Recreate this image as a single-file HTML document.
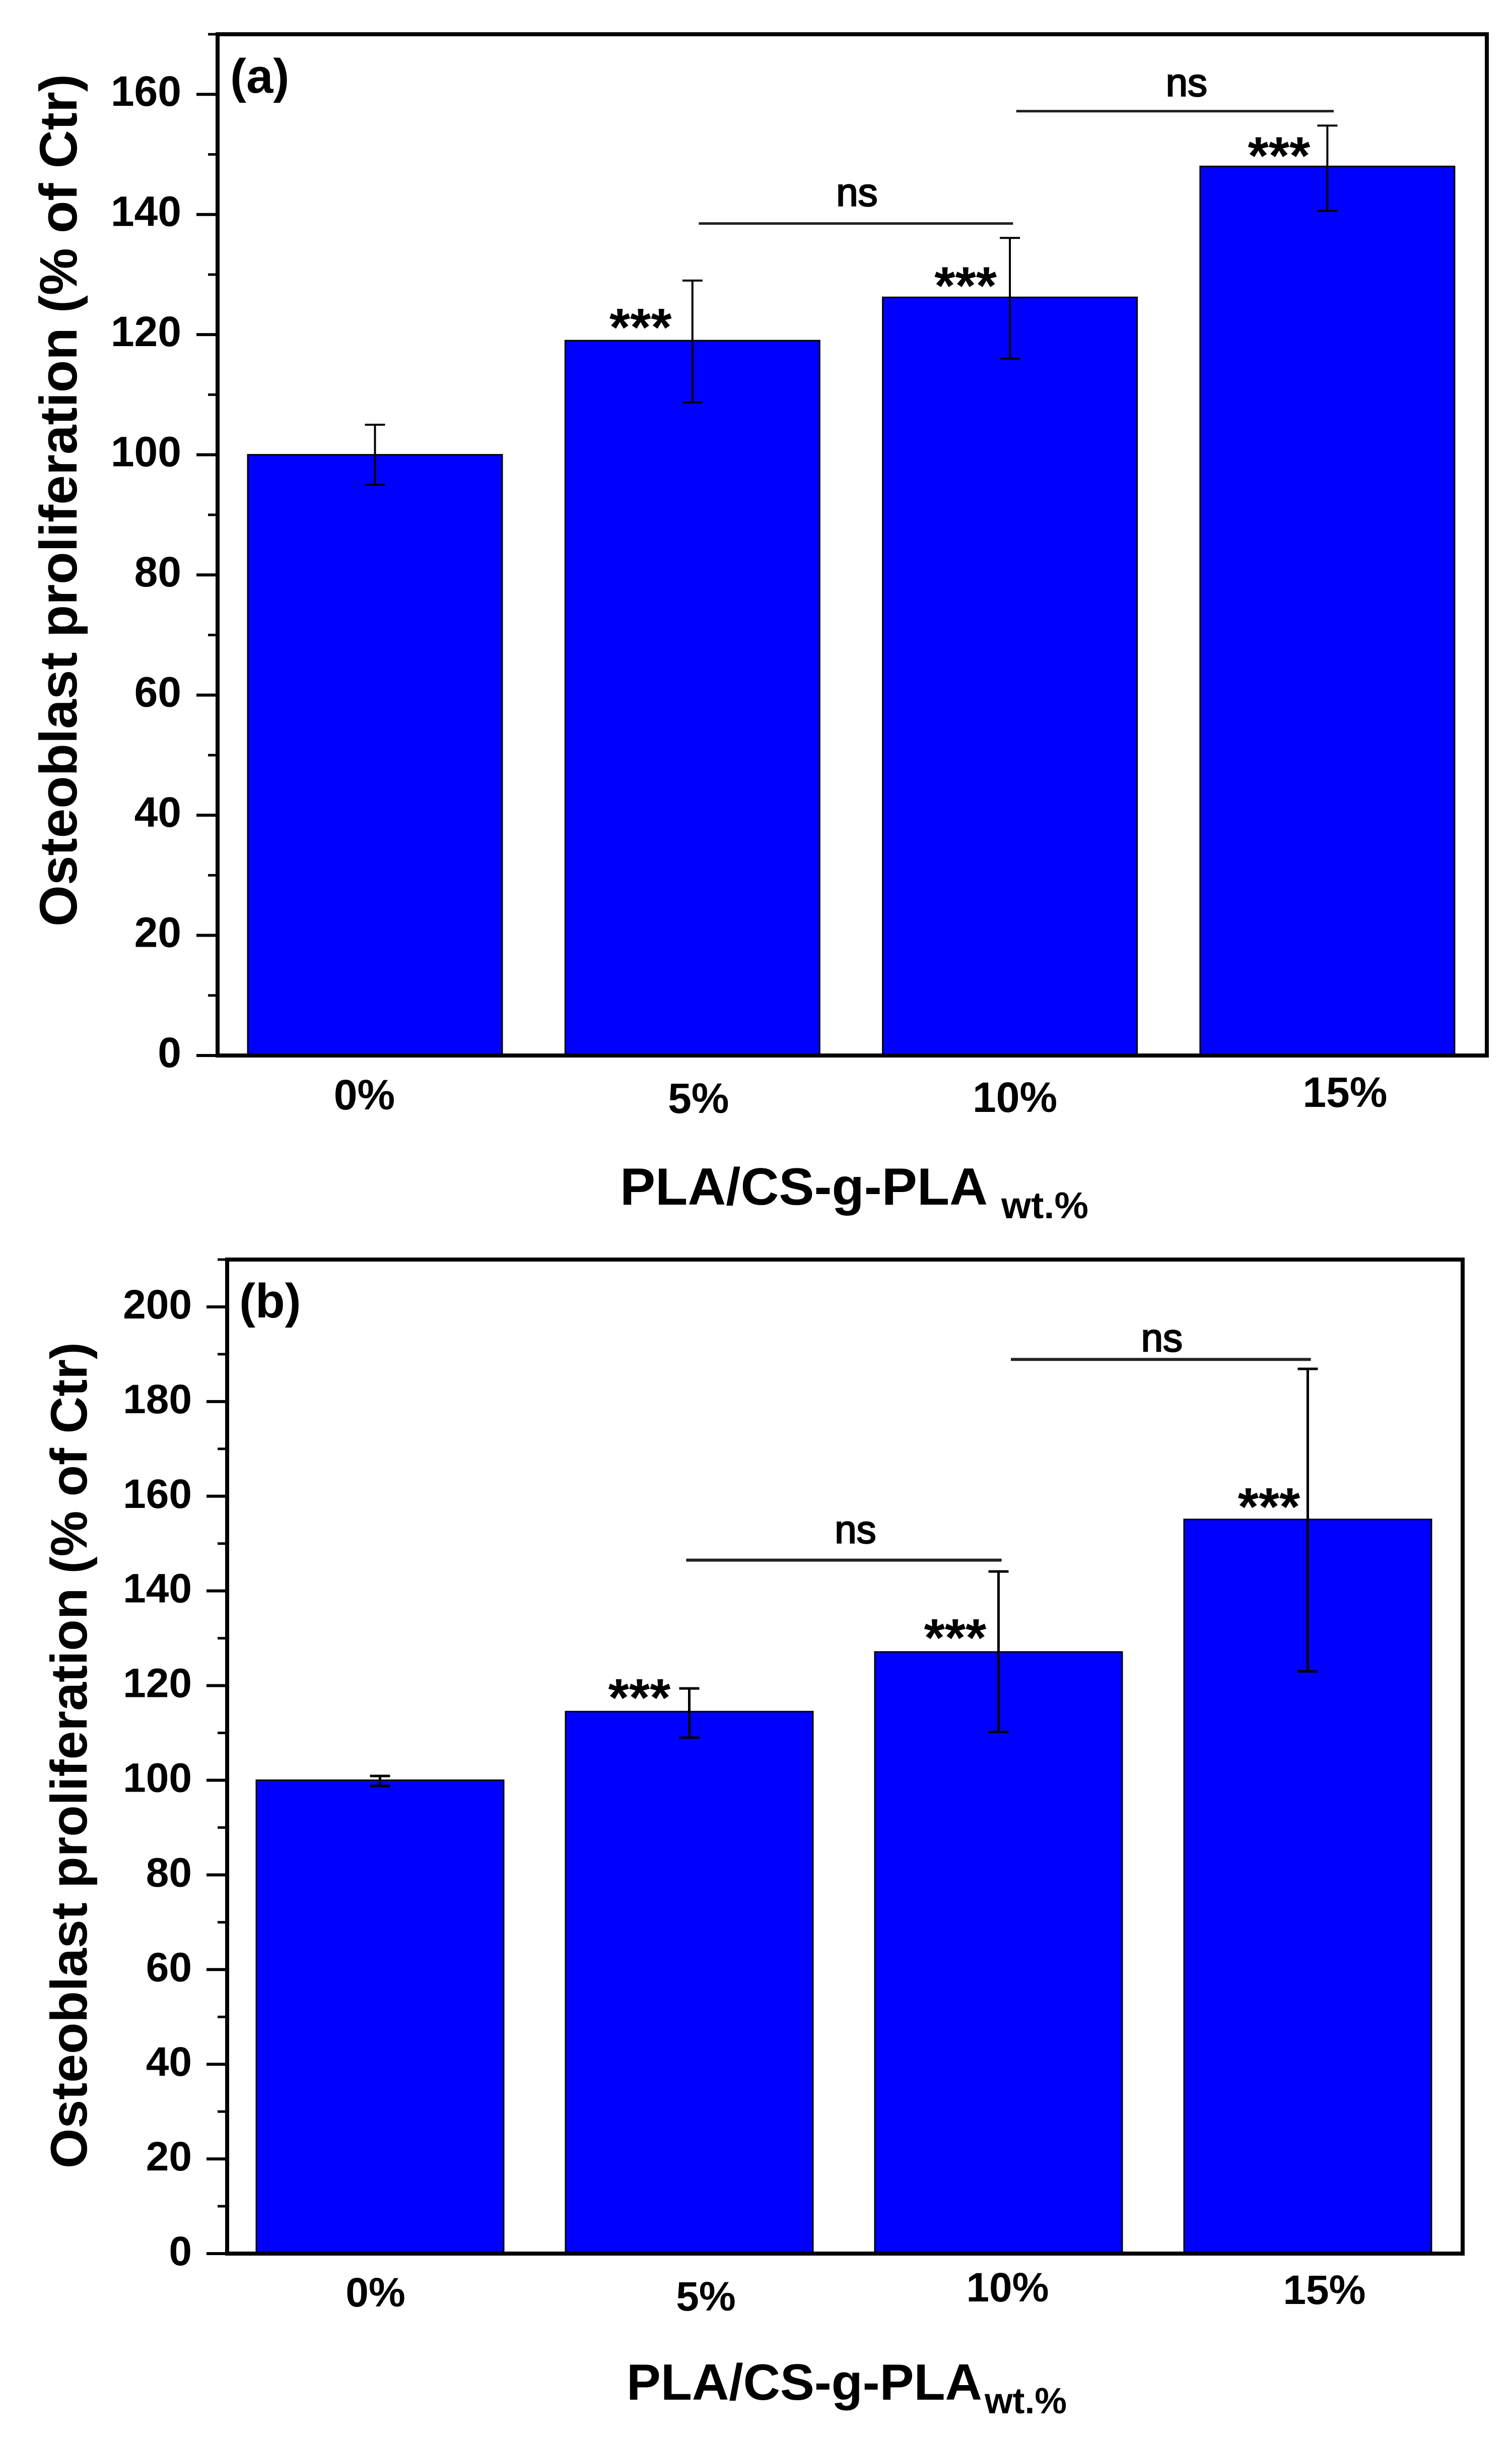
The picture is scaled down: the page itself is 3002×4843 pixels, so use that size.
<!DOCTYPE html>
<html lang="en">
<head>
<meta charset="utf-8">
<title>Osteoblast proliferation bar charts</title>
<style>
  html, body { margin: 0; padding: 0; background: #ffffff; }
  svg { display: block; font-family: "Liberation Sans", Arial, sans-serif; }
</style>
</head>
<body>
<svg id="chart" xmlns="http://www.w3.org/2000/svg" width="3002" height="4843" viewBox="0 0 3002 4843"></svg>
<script>
// ---- Data ----
const categories = ['0%', '5%', '10%', '15%'];

const valuesA = [100, 119, 126.2, 148];
const errorHighA = [105, 129, 136.1, 154.8];
const errorLowA = [95, 108.7, 116, 140.6];
const starsA = ['', '***', '***', '***'];
const tickValuesA = [0, 20, 40, 60, 80, 100, 120, 140, 160];
const minorTickValuesA = [10, 30, 50, 70, 90, 110, 130, 150, 170];
const tickLabelsA = ['0', '20', '40', '60', '80', '100', '120', '140', '160'];
const sigFromA = [1.02, 2.02];
const sigToA = [2.01, 3.02];
const sigLevelA = [138.5, 157.2];
const sigLabelsA = ['ns', 'ns'];

const valuesB = [100, 114.5, 127.1, 155.1];
const errorHighB = [100.9, 119.4, 144.1, 186.9];
const errorLowB = [98.8, 109, 110.2, 123];
const starsB = ['', '***', '***', '***'];
const tickValuesB = [0, 20, 40, 60, 80, 100, 120, 140, 160, 180, 200];
const minorTickValuesB = [10, 30, 50, 70, 90, 110, 130, 150, 170, 190, 210];
const tickLabelsB = ['0', '20', '40', '60', '80', '100', '120', '140', '160', '180', '200'];
const sigFromB = [0.99, 2.04];
const sigToB = [2.01, 3.01];
const sigLevelB = [146.5, 188.9];
const sigLabelsB = ['ns', 'ns'];

const yTitle = 'Osteoblast proliferation (% of Ctr)';
const xTitle = 'PLA/CS-g-PLA';
const xSubtitle = 'wt.%';

// ---- Layout only ----
const layoutA = {
  id: 'a', left: 432, right: 2952, top: 68, zeroY: 2095, maxValue: 170,
  firstBarLeft: 492, barStep: 630.3, barWidth: 505, errWidth: 4, sigWidth: 5,
  majorTickX: 390, minorTickX: 413, tickFont: 84, tickEndX: 360,
  catDx: [-21, 12, 10, 35], catBase: [2202, 2209, 2207, 2197], catFont: 84,
  starDx: [0, -103, -88, -96], starUp: [0, 36, 33, 31],
  sigTextDx: [2, 23], sigTextUp: [35, 30],
  panelLabel: '(a)', panelX: 457, panelBase: 184, panelFont: 96,
  titleX: 152, titleFrom: 1839, titleLen: 1692, titleFont: 105,
  xTitleX: 1231, xTitleBase: 2391, xTitleLen: 730, xTitleFont: 104,
  subX: 1988, subBase: 2418, subLen: 173, subFont: 74
};
const layoutB = {
  id: 'b', left: 451, right: 2904, top: 2500, zeroY: 4473, maxValue: 210,
  firstBarLeft: 509, barStep: 614, barWidth: 491, errWidth: 5, sigWidth: 6,
  majorTickX: 410, minorTickX: 432, tickFont: 82, tickEndX: 381,
  catDx: [-9, 33, 18, 33], catBase: [4578, 4586, 4568, 4573], catFont: 82,
  starDx: [0, -99, -86, -77], starUp: [0, 37, 38, 35],
  sigTextDx: [23, 2], sigTextUp: [34, 16],
  panelLabel: '(b)', panelX: 475, panelBase: 2615, panelFont: 96,
  titleX: 172, titleFrom: 4304, titleLen: 1640, titleFont: 102,
  xTitleX: 1244, xTitleBase: 4763, xTitleLen: 706, xTitleFont: 101,
  subX: 1955, subBase: 4790, subLen: 163, subFont: 72
};

const SVG_NS = 'http://www.w3.org/2000/svg';
const root = document.getElementById('chart');

function shape(parent, tag, attrs) {
  const el = document.createElementNS(SVG_NS, tag);
  Object.keys(attrs).forEach(function (k) { el.setAttribute(k, attrs[k]); });
  parent.appendChild(el);
  return el;
}
function line(parent, x1, y1, x2, y2, width, color) {
  return shape(parent, 'line', { x1: x1, y1: y1, x2: x2, y2: y2, stroke: color || '#000', 'stroke-width': width });
}
function label(parent, str, x, y, size, weight, anchor) {
  const t = shape(parent, 'text', { x: x, y: y, 'font-size': size, 'font-weight': weight, 'text-anchor': anchor || 'middle', fill: '#000' });
  t.textContent = str;
  return t;
}

function drawPanel(L, values, high, low, stars, ticks, minors, tickLabels, sigFrom, sigTo, sigLevel, sigLabels) {
  const scaleY = function (v) { return L.zeroY - v * (L.zeroY - L.top) / L.maxValue; };
  const barLeft = function (i) { return L.firstBarLeft + i * L.barStep; };
  const barCenter = function (p) { return L.firstBarLeft + L.barWidth / 2 + p * L.barStep; };

  const g = shape(root, 'g', {});
  
  

  // bars
  values.forEach(function (v, i) {
    const bar = shape(g, 'rect', { x: barLeft(i), y: scaleY(v), width: L.barWidth, height: scaleY(0) - scaleY(v), fill: '#0000ff', stroke: '#000', 'stroke-width': 3 });
    
    
  });

  // error bars
  values.forEach(function (v, i) {
    const eg = shape(g, 'g', {});
    
    
    const cx = barCenter(i);
    line(eg, cx, scaleY(high[i]), cx, scaleY(low[i]), L.errWidth);
    line(eg, cx - 20, scaleY(high[i]), cx + 20, scaleY(high[i]), L.errWidth);
    line(eg, cx - 20, scaleY(low[i]), cx + 20, scaleY(low[i]), L.errWidth);
  });

  // significance stars
  stars.forEach(function (s, i) {
    if (!s) return;
    const t = label(g, s, barCenter(i) + L.starDx[i], scaleY(values[i]) - L.starUp[i] + 46, 106, 'bold');
    
    
  });

  // not-significant brackets
  sigLevel.forEach(function (lvl, i) {
    const x1 = barCenter(sigFrom[i]);
    const x2 = barCenter(sigTo[i]);
    const y = scaleY(lvl);
    const l = line(g, x1, y, x2, y, L.sigWidth, '#222');
    
    
    const t = label(g, sigLabels[i], (x1 + x2) / 2 + L.sigTextDx[i], y - L.sigTextUp[i], 78, 'normal');
    t.setAttribute('stroke', '#000');
    t.setAttribute('stroke-width', '2.5');
    
    
  });

  // frame
  const frame = shape(g, 'rect', { x: L.left, y: L.top, width: L.right - L.left, height: L.zeroY - L.top, fill: 'none', stroke: '#000', 'stroke-width': 8 });
  
  

  // y axis ticks
  ticks.forEach(function (v, i) {
    const tk = line(g, L.majorTickX, scaleY(v), L.left, scaleY(v), 6);
    
    
    const t = label(g, tickLabels[i], L.tickEndX, scaleY(v) + 23, L.tickFont, 'bold', 'end');
    
    
  });
  minors.forEach(function (v) {
    const tk = line(g, L.minorTickX, scaleY(v), L.left, scaleY(v), 5);
    
    
  });

  // category labels
  categories.forEach(function (c, i) {
    const t = label(g, c, barCenter(i) + L.catDx[i], L.catBase[i], L.catFont, 'bold');
    
    
  });

  // panel tag
  const tag = label(g, L.panelLabel, L.panelX, L.panelBase, L.panelFont, 'bold', 'start');
  
  

  // y axis title
  const yt = shape(g, 'text', { transform: 'translate(' + L.titleX + ' ' + L.titleFrom + ') rotate(-90)', 'font-size': L.titleFont, 'font-weight': 'bold', fill: '#000', textLength: L.titleLen, lengthAdjust: 'spacingAndGlyphs' });
  yt.textContent = yTitle;
  
  

  // x axis title
  const xt = shape(g, 'text', { x: L.xTitleX, y: L.xTitleBase, 'font-size': L.xTitleFont, 'font-weight': 'bold', fill: '#000', textLength: L.xTitleLen, lengthAdjust: 'spacingAndGlyphs' });
  xt.textContent = xTitle;
  
  
  const xs = shape(g, 'text', { x: L.subX, y: L.subBase, 'font-size': L.subFont, 'font-weight': 'bold', fill: '#000', textLength: L.subLen, lengthAdjust: 'spacingAndGlyphs' });
  xs.textContent = xSubtitle;
  
  
}

drawPanel(layoutA, valuesA, errorHighA, errorLowA, starsA, tickValuesA, minorTickValuesA, tickLabelsA, sigFromA, sigToA, sigLevelA, sigLabelsA);
drawPanel(layoutB, valuesB, errorHighB, errorLowB, starsB, tickValuesB, minorTickValuesB, tickLabelsB, sigFromB, sigToB, sigLevelB, sigLabelsB);
</script>
</body>
</html>
